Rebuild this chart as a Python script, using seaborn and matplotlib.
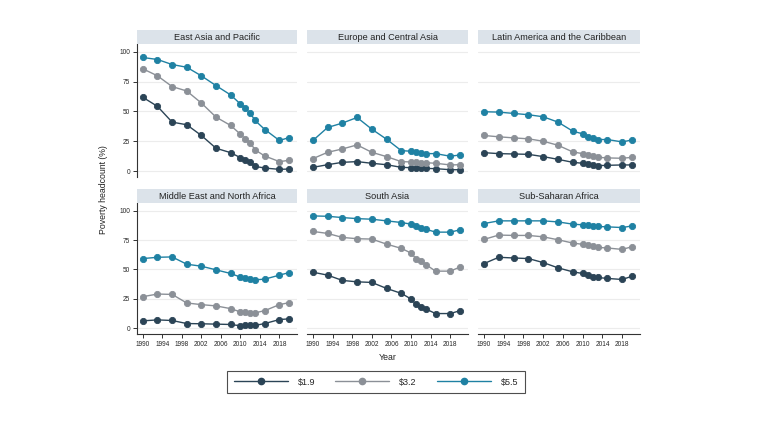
import pandas as pd
import matplotlib.pyplot as plt
import seaborn as sns
from matplotlib.lines import Line2D

sns.set_theme(style="white")
plt.rcParams["font.family"] = ["Liberation Sans", "DejaVu Sans"]

# --- data ---
years = [1990, 1993, 1996, 1999, 2002, 2005, 2008, 2010, 2011, 2012, 2013, 2015, 2018, 2020]
lines = ["$1.9", "$3.2", "$5.5"]
regions = ["East Asia and Pacific", "Europe and Central Asia", "Latin America and the Caribbean",
           "Middle East and North Africa", "South Asia", "Sub-Saharan Africa"]

eap_19 = [61.8, 54.2, 41.0, 38.8, 29.8, 19.1, 15.4, 11.2, 9.0, 7.6, 3.9, 2.5, 1.4, 1.7]
eap_32 = [85.7, 79.8, 70.8, 67.1, 57.0, 45.2, 38.2, 30.9, 26.7, 23.9, 17.7, 12.6, 7.9, 9.0]
eap_55 = [95.2, 93.5, 89.3, 87.0, 79.8, 71.6, 63.8, 56.2, 52.5, 48.6, 42.4, 34.8, 25.6, 28.1]

eca_19 = [3.1, 5.3, 7.3, 7.9, 6.5, 5.3, 3.1, 2.8, 2.5, 2.2, 2.2, 2.0, 1.1, 1.1]
eca_32 = [10.4, 15.7, 18.5, 21.9, 15.7, 12.1, 7.9, 7.6, 7.3, 7.0, 7.0, 6.5, 5.1, 5.3]
eca_55 = [25.6, 36.5, 40.2, 44.9, 35.1, 26.7, 17.1, 16.6, 15.7, 15.2, 14.6, 14.6, 12.4, 13.5]

lac_19 = [15.4, 14.6, 14.3, 14.0, 12.1, 9.8, 7.3, 6.5, 5.6, 4.8, 4.5, 4.8, 5.1, 5.1]
lac_32 = [29.8, 28.7, 27.8, 27.0, 25.0, 21.6, 16.0, 14.6, 13.2, 12.4, 11.5, 11.0, 10.7, 11.5]
lac_55 = [49.7, 49.4, 48.3, 47.2, 45.5, 41.0, 33.4, 31.2, 28.9, 27.5, 26.4, 26.4, 24.4, 26.1]

mna_19 = [6.2, 7.0, 6.5, 3.9, 3.7, 3.4, 3.1, 2.0, 2.3, 2.3, 2.3, 3.9, 7.3, 7.9]
mna_32 = [26.8, 29.0, 28.7, 21.4, 20.0, 18.9, 16.6, 13.8, 13.5, 13.2, 13.0, 14.9, 20.0, 21.7]
mna_55 = [59.2, 60.3, 60.6, 54.4, 52.7, 49.6, 46.5, 43.4, 42.3, 41.7, 41.1, 41.7, 45.1, 47.3]

sas_19 = [47.6, 45.1, 40.6, 39.4, 38.9, 33.8, 29.6, 24.8, 20.3, 18.3, 16.3, 12.4, 12.4, 14.9]
sas_32 = [82.3, 80.6, 77.2, 76.1, 75.8, 71.5, 67.9, 63.9, 59.2, 56.9, 54.1, 48.5, 48.5, 52.1]
sas_55 = [95.5, 95.2, 94.1, 93.2, 92.7, 91.3, 89.9, 88.5, 86.5, 85.4, 84.2, 81.7, 81.7, 83.7]

ssa_19 = [54.9, 60.3, 59.7, 59.2, 55.8, 51.3, 47.9, 46.5, 45.1, 43.9, 43.1, 42.3, 41.4, 44.2]
ssa_32 = [75.5, 79.2, 78.9, 78.9, 77.7, 75.2, 72.4, 71.3, 70.4, 69.6, 68.7, 68.2, 67.0, 69.3]
ssa_55 = [89.0, 91.3, 91.3, 91.3, 91.3, 90.4, 88.5, 87.9, 87.6, 87.0, 86.5, 86.2, 85.6, 87.0]

series = {
    regions[0]: [eap_19, eap_32, eap_55],
    regions[1]: [eca_19, eca_32, eca_55],
    regions[2]: [lac_19, lac_32, lac_55],
    regions[3]: [mna_19, mna_32, mna_55],
    regions[4]: [sas_19, sas_32, sas_55],
    regions[5]: [ssa_19, ssa_32, ssa_55],
}

rows = []
for reg, vals in series.items():
    for lab, v in zip(lines, vals):
        for y, p in zip(years, v):
            rows.append({"region": reg, "line": lab, "year": y, "value": p})
df = pd.DataFrame(rows)

colors = {"$1.9": "#2b4456", "$3.2": "#8b9097", "$5.5": "#1f81a3"}

# --- layout in pixels ---
W, H = 780, 440
fig = plt.figure(figsize=(W / 100, H / 100), dpi=100)
cols_x = [(137, 297), (307, 468), (478, 640)]
rows_y = [(44, 177), (203, 334)]


def px_axes(x0, x1, y0, y1):
    return fig.add_axes([x0 / W, 1 - y1 / H, (x1 - x0) / W, (y1 - y0) / H])


for i, reg in enumerate(regions):
    r, c = divmod(i, 3)
    x0, x1 = cols_x[c]
    y0, y1 = rows_y[r]
    ax = px_axes(x0, x1, y0, y1)
    sub = df[df["region"] == reg]
    sns.lineplot(data=sub, x="year", y="value", hue="line", hue_order=lines,
                 palette=colors, marker="o", markersize=4.5, linewidth=1.0,
                 ax=ax, legend=False)
    for ln in ax.lines:
        ln.set_markeredgecolor(ln.get_color())
        ln.set_markeredgewidth(0.6)

    ax.set_xlim(1988.8, 2021.6)
    ax.set_ylim(-5, 106.5)
    ax.set_yticks([0, 25, 50, 75, 100])
    ax.set_xticks(range(1990, 2019, 4))
    ax.yaxis.grid(True, color="#ececec", linewidth=0.8)
    ax.xaxis.grid(False)
    ax.set_xlabel("")
    ax.set_ylabel("")
    for s in ax.spines.values():
        s.set_visible(False)
        s.set_color("#333333")
        s.set_linewidth(0.8)
    ax.spines["left"].set_visible(c == 0)
    ax.spines["bottom"].set_visible(r == 1)
    ax.tick_params(axis="y", left=(c == 0), labelleft=(c == 0), length=3,
                   width=0.7, color="#333333", labelsize=4.7, pad=2)
    ax.tick_params(axis="x", bottom=(r == 1), labelbottom=(r == 1), length=3,
                   width=0.7, color="#333333", labelsize=4.7, pad=2)

    # strip header
    sx = px_axes(x0, x1, y0 - 14, y0)
    sx.set_facecolor("#dce3ea")
    sx.set_xticks([])
    sx.set_yticks([])
    for s in sx.spines.values():
        s.set_visible(False)
    sx.text(0.5, 0.5, reg, ha="center", va="center", fontsize=6.6,
            color="#222222", transform=sx.transAxes)

fig.text(103 / W, 1 - 190 / H, "Poverty headcount (%)", rotation=90,
         ha="center", va="center", fontsize=6.3, color="#222222")
fig.text(388 / W, 1 - 357 / H, "Year", ha="center", va="center",
         fontsize=6.3, color="#222222")

handles = [Line2D([], [], color=colors[l], marker="o", markersize=4.5,
                  markeredgecolor=colors[l], linewidth=1.0) for l in lines]
labels = [l.replace("$", r"\$") for l in lines]
leg = fig.legend(handles, labels, loc="center", bbox_to_anchor=(376 / W, 1 - 382 / H),
                 ncol=3, frameon=True, fancybox=False, edgecolor="#222222",
                 handlelength=6.0, columnspacing=2.2, handletextpad=1.1,
                 fontsize=6.5, borderpad=0.75)
leg.get_frame().set_linewidth(0.8)

fig.savefig("out.png", dpi=100, facecolor="white")
